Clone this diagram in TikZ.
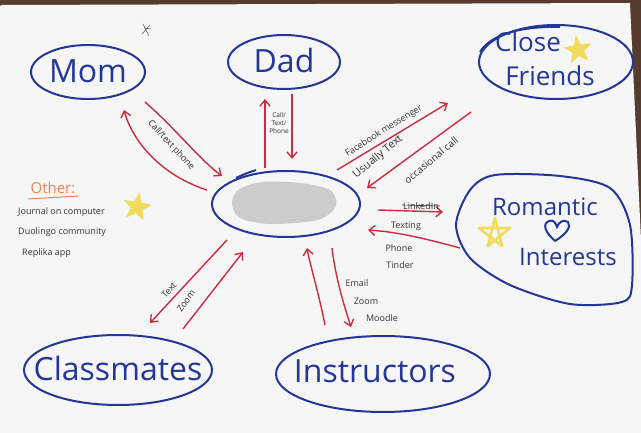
\documentclass[tikz,border=0pt]{standalone}
\usepackage{fontspec}
\setmainfont{Open Sans}
\usetikzlibrary{shapes.geometric,arrows.meta}
\definecolor{ink}{RGB}{35,55,150}
\definecolor{redink}{RGB}{200,45,65}
\definecolor{orangeink}{RGB}{225,135,85}
\definecolor{starY}{RGB}{240,220,90}
\definecolor{paper}{RGB}{246,246,247}
\definecolor{bg}{RGB}{85,60,45}
\begin{document}
\begin{tikzpicture}[x=1pt,y=-1pt,
  bubble/.style={draw=ink,line width=2pt},
  big/.style={text=ink,font=\fontsize{32}{32}\selectfont,inner sep=0pt},
  mid/.style={text=ink,font=\fontsize{26}{26}\selectfont,inner sep=0pt},
  link/.style={draw=redink,line width=1.4pt,-{Straight Barb[length=6pt,width=10pt]}},
  note/.style={font=\fontsize{9}{10}\selectfont,text=black!80,inner sep=0pt},
  yellowstar/.style={star,star points=5,star point ratio=2.4,fill=starY,draw=none,inner sep=0pt}]
\useasboundingbox (0,0) rectangle (641,433);
% background and paper
\fill[bg] (0,0) rectangle (641,433);
\fill[paper] (2,5) -- (630,3) -- (641,240) -- (641,433) -- (0,433) -- (0,6) -- cycle;
% small doodle
\draw[black!60,line width=0.6pt] (143,24) -- (149,36) (150,25) -- (142,34) (144,28) -- (151,29);
% bubbles
\draw[bubble] (88,72) ellipse [x radius=57,y radius=27];
\node[big] (mom) at (88,71) {Mom};
\draw[bubble] (284,62) ellipse [x radius=56,y radius=27];
\node[big] (dad) at (284,61) {Dad};
\draw[bubble] (556,62) ellipse [x radius=77,y radius=37];
\draw[bubble] (480,52) .. controls (490,35) and (520,26) .. (560,27);
\node[mid] (close) at (528,42) {Close};
\node[mid] (friends) at (550,76) {Friends};
\node[yellowstar,minimum size=30pt,rotate=8] (s1) at (578,50) {};
% centre
\fill[gray!40] plot[smooth cycle] coordinates {(238,190) (262,182) (300,183) (330,190) (336,206) (318,220) (270,224) (240,218) (232,204)};
\draw[bubble] (286,204) ellipse [x radius=74,y radius=33];
\draw[bubble] (236,178) .. controls (244,174) and (250,172) .. (256,170);
\coordinate (center) at (286,204);
% romantic
\draw[bubble] plot[smooth cycle] coordinates {(495,175) (560,176) (610,188) (630,225) (632,285) (622,302) (570,304) (510,285) (470,258) (456,225) (470,190)};
\node[text=ink,font=\fontsize{24}{24}\selectfont,inner sep=0pt] (rom) at (545,207) {Romantic};
\node[text=ink,font=\fontsize{24}{24}\selectfont,inner sep=0pt] (int) at (568,257) {Interests};
\draw[ink,line width=2pt] (555,241) .. controls (545,232) and (542,224) .. (549,221) .. controls (554,219) and (556,224) .. (557,227) .. controls (559,222) and (563,219) .. (568,222) .. controls (572,227) and (565,235) .. (555,241);
\draw[starY,line width=2.6pt,line join=round] (488,246) -- (495,218) -- (502,246) -- (479,228) -- (510,228) -- cycle;
% classmates, instructors
\draw[bubble] (118,370) ellipse [x radius=94,y radius=35];
\node[big] (class) at (118,369) {Classmates};
\draw[bubble] (383,374) ellipse [x radius=107,y radius=38];
\node[big] (instr) at (375,371) {Instructors};
% Other
\node[text=orangeink,font=\fontsize{15}{15}\selectfont,inner sep=0pt] (other) at (53,188) {Other:};
\draw[orangeink,line width=1pt] (28,199) -- (78,196);
\node[note,anchor=west] (o1) at (18,212) {Journal on computer};
\node[note,anchor=west] (o2) at (18,232) {Duolingo community};
\node[note,anchor=west] (o3) at (22,253) {Replika app};
\node[yellowstar,minimum size=30pt,rotate=-10] (s2) at (137,207) {};
% arrow end coordinates
\coordinate (m1) at (145,102); \coordinate (m2) at (222,176);
\coordinate (m3) at (207,190); \coordinate (m4) at (124,110);
\coordinate (d1) at (265,168); \coordinate (d2) at (265,99);
\coordinate (d3) at (292,94); \coordinate (d4) at (292,159);
\coordinate (f1) at (337,170); \coordinate (f2) at (448,103);
\coordinate (f3) at (471,112); \coordinate (f4) at (367,188);
\coordinate (r1) at (378,210); \coordinate (r2) at (443,212);
\coordinate (r3) at (460,248); \coordinate (r4) at (368,230);
\coordinate (c1) at (227,240); \coordinate (c2) at (150,323);
\coordinate (c3) at (183,329); \coordinate (c4) at (243,252);
\coordinate (i1) at (325,325); \coordinate (i2) at (307,248);
\coordinate (i3) at (332,248); \coordinate (i4) at (351,327);
% arrows
\draw[link] (m1) .. controls (175,128) and (200,160) .. (m2);
\draw[link] (m3) .. controls (160,175) and (132,140) .. (m4);
\draw[link] (d1) -- (d2);
\draw[link] (d3) -- (d4);
\draw[link] (f1) -- (f2);
\draw[link] (f3) -- (f4);
\draw[link] (r1) -- (r2);
\draw[link] (r3) .. controls (430,240) and (400,232) .. (r4);
\draw[link] (c1) -- (c2);
\draw[link] (c3) -- (c4);
\draw[link] (i1) .. controls (318,290) and (310,265) .. (i2);
\draw[link] (i3) .. controls (336,280) and (344,305) .. (i4);
% arrow labels
\node[note,rotate=-47] (lm) at (171,145) {Call/text phone};
\node[note,font=\fontsize{6.5}{8}\selectfont,align=center] (ld) at (279,123) {Call/\\Text/\\Phone};
\node[note,rotate=32] (lf1) at (384,131) {Facebook messenger};
\node[note,font=\fontsize{11}{12}\selectfont,rotate=40] (lf2) at (378,157) {Usually Text};
\node[note,font=\fontsize{10}{12}\selectfont,rotate=40] (lf3) at (431,160) {occasional call};
\node[note] (lr1) at (421,206) {LinkedIn};
\draw[black!80,line width=0.6pt] (402,205) -- (440,206);
\node[note] (lr2) at (406,226) {Texting};
\node[note] (lr3) at (399,248) {Phone};
\node[note] (lr4) at (400,265) {Tinder};
\node[note,rotate=48] (lc1) at (169,290) {Text};
\node[note,rotate=55] (lc2) at (186,301) {Zoom};
\node[note] (li1) at (357,283) {Email};
\node[note] (li2) at (366,301) {Zoom};
\node[note] (li3) at (382,318) {Moodle};
\end{tikzpicture}
\end{document}
